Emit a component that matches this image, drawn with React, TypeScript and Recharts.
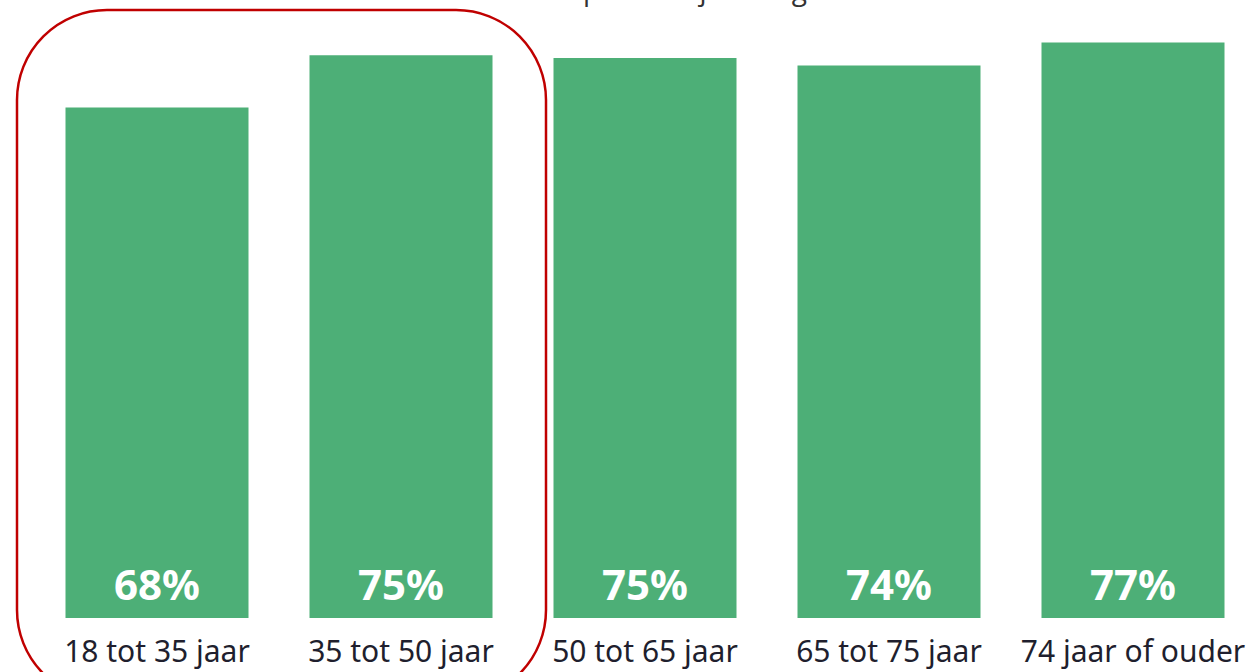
import React from "react";
import { BarChart, Bar, XAxis, YAxis, LabelList } from "recharts";

const categories = ["18 tot 35 jaar", "35 tot 50 jaar", "50 tot 65 jaar", "65 tot 75 jaar", "74 jaar of ouder"];
const values = [68.3, 75.3, 74.9, 73.9, 77.0];
const titleText = "Vertrouwen per leeftijdscategorie";

const data = categories.map((c, i) => ({ name: c, value: values[i] }));

const GREEN = "#4daf77";

export default function App() {
  return (
    <div
      style={{
        position: "fixed",
        left: 0,
        top: 0,
        width: 1255,
        height: 672,
        overflow: "hidden",
        background: "#fff",
      }}
    >
      <BarChart
        width={1255}
        height={672}
        data={data}
        margin={{ top: 20, right: 0, bottom: 0, left: 35 }}
        barCategoryGap="12.5%"
      >
        <text
          x={640}
          y={0}
          textAnchor="middle"
          fontFamily="Open Sans, sans-serif"
          fontSize={28}
          fill="#333"
        >
          {titleText}
        </text>
        <XAxis
          dataKey="name"
          height={54}
          axisLine={false}
          tickLine={false}
          tickMargin={17}
          interval={0}
          tick={{ fontSize: 30, fill: "#1f1f2e", fontFamily: "Noto Sans, sans-serif" }}
        />
        <YAxis hide domain={[0, 80]} />
        <Bar dataKey="value" fill={GREEN} isAnimationActive={false}>
          <LabelList
            dataKey="value"
            position="insideBottom"
            offset={18}
            formatter={(v: number) => `${Math.round(v)}%`}
            style={{ fill: "#fff", fontSize: 42, fontWeight: 700, fontFamily: "Noto Sans, sans-serif" }}
          />
        </Bar>
      </BarChart>
      <svg
        width={1255}
        height={672}
        style={{ position: "absolute", left: 0, top: 0, pointerEvents: "none" }}
      >
        <rect x={17} y={10} width={529} height={690} rx={90} ry={90} fill="none" stroke="#c00000" strokeWidth={2.5} />
      </svg>
    </div>
  );
}
